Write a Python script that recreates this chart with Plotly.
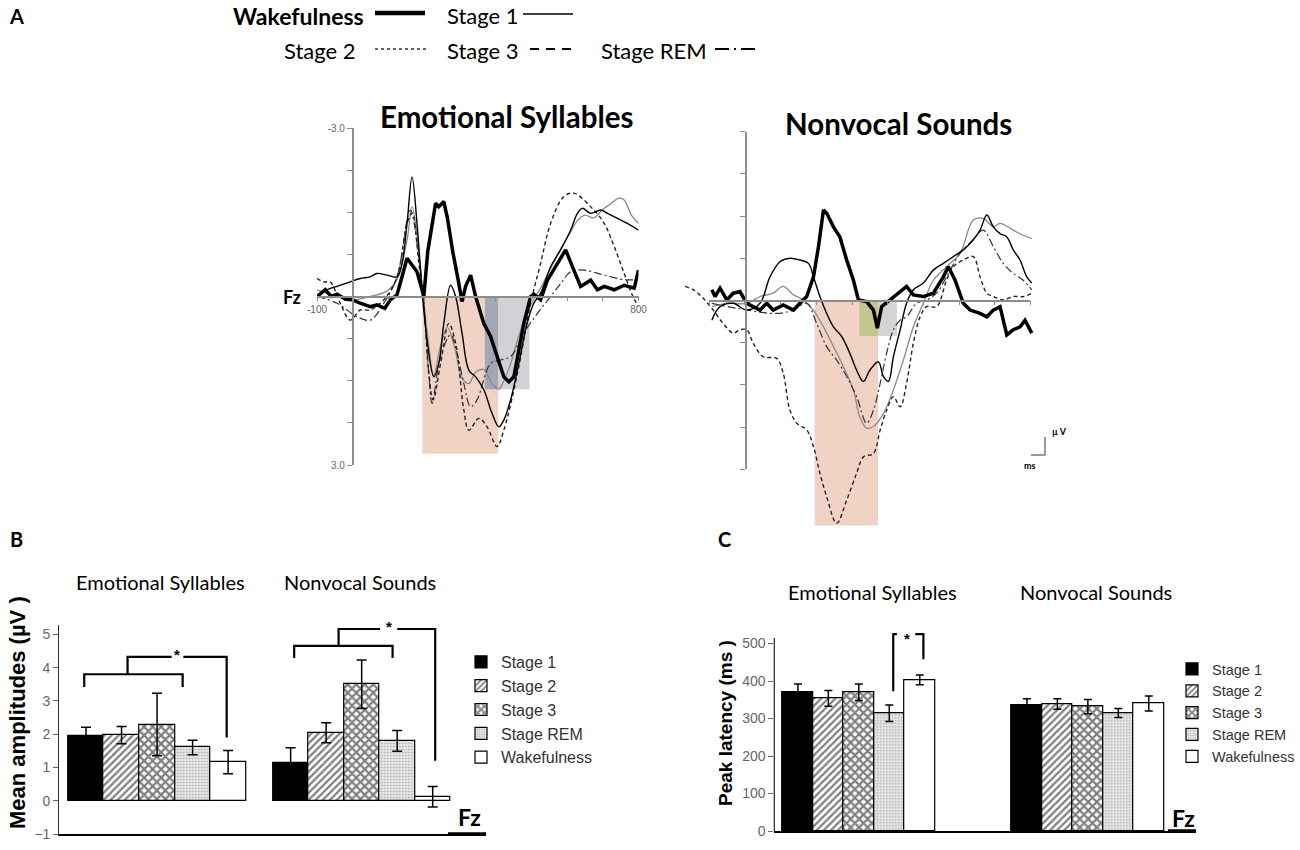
import plotly.graph_objects as go

# ---------------- data ----------------
stages = ["Stage 1", "Stage 2", "Stage 3", "Stage REM", "Wakefulness"]
conditions = ["Emotional Syllables", "Nonvocal Sounds"]

# Panel B: mean amplitudes (µV)
amp_emotional = [1.94, 1.97, 2.29, 1.60, 1.16]
amp_emotional_err = [0.27, 0.26, 0.94, 0.22, 0.35]
amp_nonvocal = [1.14, 2.04, 3.50, 1.80, 0.12]
amp_nonvocal_err = [0.45, 0.30, 0.73, 0.31, 0.31]

# Panel C: peak latency (ms)
lat_emotional = [370, 354, 370, 314, 403]
lat_emotional_err = [22, 21, 22, 22, 13]
lat_nonvocal = [336, 339, 332, 315, 340]
lat_nonvocal_err = [17, 14, 19, 12, 20]

# Panel A: ERP waveforms at Fz (ms, µV; negative plotted up)
es_wake_t = [-100, -77, -60, -44, -20, 0, 21, 49, 68, 90, 105, 124, 138, 152, 166, 180, 194, 199, 210, 232, 241, 255, 265, 280, 295, 302, 306, 316, 330, 344, 367, 386, 405, 423, 437, 451, 479, 498, 507, 526, 545, 573, 596, 619, 638, 666, 685, 704, 732, 760, 788, 800]
es_wake_v = [0.0, -0.12, 0.0, -0.04, 0.05, 0.06, 0.12, 0.18, 0.15, 0.21, 0.06, -0.03, -0.35, -0.68, -0.56, -0.44, -0.12, 0.0, -0.8, -1.66, -1.60, -1.69, -1.40, -0.80, -0.30, 0.0, 0.09, -0.18, -0.38, 0.0, 0.48, 0.71, 1.07, 1.43, 1.52, 1.43, 0.48, 0.0, -0.04, 0.06, -0.29, -0.59, -0.83, -0.47, -0.18, -0.29, -0.12, -0.18, -0.12, -0.20, -0.15, -0.47]
es_s1_t = [-100, -72, -44, -7, 21, 49, 68, 96, 124, 138, 152, 166, 180, 194, 208, 227, 241, 255, 274, 288, 306, 325, 344, 367, 390, 409, 423, 442, 465, 488, 507, 526, 554, 582, 610, 629, 643, 666, 694, 713, 741, 769, 800]
es_s1_v = [0.03, -0.12, -0.18, -0.26, -0.32, -0.35, -0.41, -0.38, -0.35, -0.59, -1.30, -2.13, -1.30, -0.12, 0.77, 1.43, 1.19, 0.48, -0.20, 0.0, 0.65, 1.31, 1.43, 1.66, 2.08, 2.32, 2.20, 1.84, 1.19, 0.48, 0.12, -0.06, -0.53, -0.83, -1.18, -1.48, -1.57, -1.48, -1.54, -1.48, -1.39, -1.30, -1.18]
es_s2_t = [-100, -44, 0, 49, 96, 124, 152, 166, 180, 194, 208, 227, 245, 265, 285, 306, 325, 344, 367, 390, 409, 423, 442, 465, 488, 507, 526, 554, 582, 610, 629, 650, 675, 700, 722, 745, 760, 780, 800]
es_s2_v = [-0.12, 0.0, 0.06, 0.0, -0.10, -0.30, -1.00, -1.60, -1.10, -0.20, 0.60, 1.40, 0.90, 0.55, 0.90, 1.45, 1.55, 1.35, 1.30, 1.55, 1.65, 1.50, 1.20, 0.70, 0.30, 0.05, -0.15, -0.50, -0.85, -1.15, -1.35, -1.45, -1.40, -1.55, -1.65, -1.75, -1.72, -1.45, -1.30]
es_s3_t = [-100, -81, -63, -35, -7, 21, 49, 87, 124, 152, 166, 185, 199, 213, 225, 246, 269, 288, 311, 325, 353, 376, 404, 423, 461, 498, 526, 554, 591, 619, 666, 704, 732, 760, 783, 800]
es_s3_v = [-0.32, -0.26, -0.26, 0.12, 0.42, 0.24, 0.24, 0.06, -0.35, -1.30, -1.48, -0.59, 0.12, 1.37, 1.84, 1.19, 0.48, 0.83, 2.02, 2.38, 2.17, 2.32, 2.67, 2.38, 1.37, 0.12, -0.59, -1.30, -1.78, -1.84, -1.60, -1.30, -0.89, -0.41, -0.02, 0.18]
es_rem_t = [-100, -44, 12, 49, 87, 124, 161, 185, 199, 213, 222, 246, 274, 292, 311, 330, 348, 386, 414, 442, 479, 517, 554, 582, 610, 647, 704, 760, 800]
es_rem_v = [0.0, 0.12, 0.36, 0.42, 0.12, -0.35, -1.54, -0.71, 0.12, 1.37, 1.90, 1.07, 0.68, 1.01, 1.55, 1.96, 1.84, 1.19, 1.13, 1.07, 0.65, 0.30, 0.0, -0.23, -0.44, -0.47, -0.38, -0.30, -0.30]

nv_wake_t = [-93, -84, -70, -51, -33, -14, 5, 23, 42, 61, 79, 107, 136, 154, 173, 192, 206, 220, 229, 248, 266, 285, 304, 318, 341, 360, 371, 383, 407, 435, 453, 472, 500, 528, 556, 570, 589, 612, 631, 659, 678, 696, 715, 734, 752, 771, 785, 804]
nv_wake_v = [-0.19, -0.07, -0.22, -0.01, -0.13, -0.16, 0.05, 0.11, 0.17, 0.05, 0.17, 0.08, 0.17, 0.05, -0.07, -0.42, -0.96, -1.61, -1.55, -1.31, -1.13, -0.72, -0.36, -0.01, 0.02, 0.17, 0.49, 0.11, -0.01, -0.16, -0.25, -0.10, -0.07, -0.13, -0.42, -0.60, -0.36, 0.05, 0.17, 0.23, 0.29, 0.17, 0.11, 0.61, 0.52, 0.47, 0.35, 0.58]
nv_s1_t = [-93, -70, -33, 5, 42, 70, 98, 126, 154, 178, 192, 210, 229, 248, 271, 294, 313, 332, 350, 374, 388, 402, 416, 435, 453, 472, 500, 528, 556, 584, 612, 640, 659, 678, 696, 715, 734, 752, 771, 790, 804]
nv_s1_v = [0.35, 0.11, 0.05, 0.17, 0.05, -0.42, -0.69, -0.75, -0.72, -0.66, -0.42, -0.07, 0.23, 0.47, 0.64, 0.94, 1.24, 1.44, 1.24, 1.09, 1.35, 1.44, 1.00, 0.52, 0.05, -0.19, -0.31, -0.54, -0.66, -0.78, -0.90, -1.08, -1.25, -1.52, -1.31, -1.19, -1.13, -0.90, -0.72, -0.42, -0.31]
nv_s2_t = [-93, -51, 5, 42, 79, 107, 136, 164, 192, 220, 248, 276, 304, 322, 341, 360, 388, 416, 444, 472, 500, 528, 565, 603, 640, 668, 696, 715, 752, 780, 804]
nv_s2_v = [0.11, 0.05, 0.05, -0.07, -0.13, -0.25, -0.10, -0.01, 0.17, 0.47, 0.82, 1.18, 1.59, 2.07, 2.27, 2.24, 2.01, 1.59, 1.06, 0.47, 0.05, -0.36, -0.60, -0.84, -1.43, -1.46, -1.31, -1.37, -1.25, -1.16, -1.10]
nv_s3_t = [-168, -145, -117, -89, -61, -33, -14, 5, 23, 51, 89, 107, 126, 145, 173, 192, 210, 229, 257, 285, 313, 332, 360, 379, 397, 416, 435, 453, 472, 491, 509, 537, 565, 584, 612, 640, 659, 678, 696, 724, 752, 780, 804]
nv_s3_v = [-0.25, -0.19, -0.04, 0.17, 0.41, 0.58, 0.52, 0.52, 0.76, 1.00, 1.03, 1.29, 1.95, 2.18, 2.30, 2.60, 3.07, 3.49, 3.96, 3.55, 3.07, 2.78, 2.72, 2.30, 1.95, 1.71, 1.89, 1.47, 0.76, 0.29, 0.11, 0.11, -0.36, -0.60, -0.72, -0.78, -0.42, -0.13, -0.07, -0.01, -0.07, -0.07, -0.13]
nv_rem_t = [-93, 5, 89, 136, 173, 201, 229, 257, 285, 313, 341, 360, 379, 397, 416, 435, 453, 481, 509, 537, 565, 603, 640, 668, 696, 724, 752, 780, 804]
nv_rem_v = [0.05, 0.17, 0.23, 0.17, 0.05, 0.41, 0.82, 1.06, 1.35, 1.71, 2.18, 1.95, 1.47, 0.94, 0.52, 0.35, 0.29, 0.05, -0.01, -0.13, -0.42, -0.84, -1.08, -1.25, -0.96, -0.66, -0.48, -0.36, -0.19]

# Analysis windows shaded in panel A: (start ms, end ms, depth µV, colour)
es_windows = [(195, 407, 2.8, "#f0d3c4"), (370, 495, 1.65, "#d2d2d6"), (370, 407, 1.65, "#a4a5b5")]
nv_windows = [(195, 373, 4.0, "#f0d3c4"), (320, 373, 0.63, "#c1c78d"), (373, 426, 0.63, "#d4d4d7")]

# Significance brackets (bar-slot units, value units)
b_es_bracket = dict(lo_x=(-0.05, 2.72), lo_y=3.80, lo_leg=3.42, mid=1.17, hi_y=4.32, hi_end=3.96, hi_leg=1.90, gap=(2.41, 2.74), star=2.57)
b_nv_bracket = dict(lo_x=(5.86, 8.63), lo_y=4.65, lo_leg=4.29, mid=7.11, hi_y=5.16, hi_end=9.83, hi_leg=1.20, gap=(8.28, 8.76), star=8.52)
c_es_bracket = dict(x=(3.13, 4.12), top=525, left_leg=373, right_leg=458, gap=(3.25, 3.85), star=3.59)

B_GROUP2 = 5.76
C_GROUP2 = 7.52

# ---------------- helpers ----------------
W, H = 1300, 850
def px(x):
    return x / W
def py(y):
    return 1 - y / H

TITLE_FONT = "Lato, Open Sans, sans-serif"
ARIAL = "Liberation Sans, Arial, sans-serif"

fig = go.Figure()

# ---------------- Panel A ----------------
line_styles = {
    "Wakefulness": dict(color="black", width=3.5),
    "Stage 1": dict(color="black", width=1.4),
    "Stage 2": dict(color="#8a8a8a", width=1.3),
    "Stage 3": dict(color="#222222", width=1.4, dash="4px,3px"),
    "Stage REM": dict(color="#333333", width=1.2, dash="8px,3px,2px,3px"),
}
es_series = [("Stage 2", es_s2_t, es_s2_v), ("Stage REM", es_rem_t, es_rem_v), ("Stage 3", es_s3_t, es_s3_v),
             ("Stage 1", es_s1_t, es_s1_v), ("Wakefulness", es_wake_t, es_wake_v)]
nv_series = [("Stage 2", nv_s2_t, nv_s2_v), ("Stage REM", nv_rem_t, nv_rem_v), ("Stage 3", nv_s3_t, nv_s3_v),
             ("Stage 1", nv_s1_t, nv_s1_v), ("Wakefulness", nv_wake_t, nv_wake_v)]

for name, t, v in es_series:
    fig.add_trace(go.Scatter(x=t, y=v, mode="lines", line=line_styles[name],
                             line_shape="linear" if name == "Wakefulness" else "spline",
                             showlegend=False, xaxis="x", yaxis="y", hoverinfo="skip"))
for name, t, v in nv_series:
    fig.add_trace(go.Scatter(x=t, y=v, mode="lines", line=line_styles[name],
                             line_shape="linear" if name == "Wakefulness" else "spline",
                             showlegend=False, xaxis="x2", yaxis="y2", hoverinfo="skip"))
# display axes for the right ERP panel
fig.add_trace(go.Scatter(x=[None], y=[None], xaxis="x5", yaxis="y5", showlegend=False))

shapes = []
for x0, x1, d, c in es_windows:
    shapes.append(dict(type="rect", xref="x", yref="y", x0=x0, x1=x1, y0=0, y1=d,
                       fillcolor=c, line=dict(width=0), layer="below"))
for x0, x1, d, c in nv_windows:
    shapes.append(dict(type="rect", xref="x2", yref="y2", x0=x0, x1=x1, y0=0, y1=d,
                       fillcolor=c, line=dict(width=0), layer="below"))

# ---------------- Panels B and C (bars) ----------------
bar_styles = {
    "Stage 1": dict(color="black"),
    "Stage 2": dict(color="white", pattern=dict(shape="/", fgcolor="black", bgcolor="white", size=5, solidity=0.45)),
    "Stage 3": dict(color="white", pattern=dict(shape="x", fgcolor="black", bgcolor="white", size=6, solidity=0.6)),
    "Stage REM": dict(color="#e6e6e6", pattern=dict(shape=".", fgcolor="#707070", bgcolor="#ebebeb", size=3, solidity=0.3)),
    "Wakefulness": dict(color="white"),
}

for i, s in enumerate(stages):
    mk = dict(bar_styles[s])
    mk["line"] = dict(color="black", width=1.2)
    fig.add_trace(go.Bar(x=[i, B_GROUP2 + i], y=[amp_emotional[i], amp_nonvocal[i]], width=1,
                         error_y=dict(type="data", array=[amp_emotional_err[i], amp_nonvocal_err[i]],
                                      color="black", thickness=1.5, width=5),
                         marker=mk, name=s, legend="legend", legendgroup="b" + s,
                         xaxis="x3", yaxis="y3", hoverinfo="skip"))
for i, s in enumerate(stages):
    mk = dict(bar_styles[s])
    mk["line"] = dict(color="black", width=1.2)
    fig.add_trace(go.Bar(x=[i, C_GROUP2 + i], y=[lat_emotional[i], lat_nonvocal[i]], width=1,
                         error_y=dict(type="data", array=[lat_emotional_err[i], lat_nonvocal_err[i]],
                                      color="black", thickness=1.5, width=4),
                         marker=mk, name=s, legend="legend2", legendgroup="c" + s,
                         xaxis="x4", yaxis="y4", hoverinfo="skip"))

# significance brackets (panel B)
def b_bracket_path(b):
    xs = [b["lo_x"][0], b["lo_x"][0], b["lo_x"][1], b["lo_x"][1], None,
          b["mid"], b["mid"], b["gap"][0], None, b["gap"][1], b["hi_end"], b["hi_end"]]
    ys = [b["lo_leg"], b["lo_y"], b["lo_y"], b["lo_leg"], None,
          b["lo_y"], b["hi_y"], b["hi_y"], None, b["hi_y"], b["hi_y"], b["hi_leg"]]
    return xs, ys

for b in (b_es_bracket, b_nv_bracket):
    xs, ys = b_bracket_path(b)
    fig.add_trace(go.Scatter(x=xs, y=ys, mode="lines", line=dict(color="black", width=2.2),
                             showlegend=False, xaxis="x3", yaxis="y3", hoverinfo="skip"))
cb = c_es_bracket
fig.add_trace(go.Scatter(x=[cb["x"][0], cb["x"][0], cb["gap"][0], None, cb["gap"][1], cb["x"][1], cb["x"][1]],
                         y=[cb["left_leg"], cb["top"], cb["top"], None, cb["top"], cb["top"], cb["right_leg"]],
                         mode="lines", line=dict(color="black", width=2.2),
                         showlegend=False, xaxis="x4", yaxis="y4", hoverinfo="skip"))

# C y-axis line (only up to ~515)
shapes.append(dict(type="line", xref="x4 domain", yref="y4", x0=0, x1=0, y0=0, y1=515,
                   line=dict(color="#333", width=1.3)))
# thick "Fz" underline segments
shapes.append(dict(type="line", xref="paper", yref="paper", x0=px(448), x1=px(486), y0=py(834), y1=py(834),
                   line=dict(color="black", width=3.5)))
shapes.append(dict(type="line", xref="paper", yref="paper", x0=px(1168), x1=px(1196), y0=py(831), y1=py(831),
                   line=dict(color="black", width=3.5)))

# top legend samples for panel A
leg_lines = [
    ((375, 13), (425, 13), dict(color="black", width=4.5)),
    ((523, 14), (573, 14), dict(color="black", width=1.5)),
    ((375, 49), (427, 49), dict(color="#333", width=1.6, dash="dot")),
    ((530, 49), (576, 49), dict(color="black", width=2.2, dash="9px,7px")),
    ((715, 49), (758, 49), dict(color="black", width=2.2, dash="14px,5px,2px,5px")),
]
for (x0, y0), (x1, y1), ln in leg_lines:
    shapes.append(dict(type="line", xref="paper", yref="paper", x0=px(x0), x1=px(x1), y0=py(y0), y1=py(y1), line=ln))
# µV / ms scale mark
shapes.append(dict(type="line", xref="paper", yref="paper", x0=px(1045), x1=px(1045), y0=py(437), y1=py(455),
                   line=dict(color="#555", width=1.2)))
shapes.append(dict(type="line", xref="paper", yref="paper", x0=px(1031), x1=px(1045), y0=py(455), y1=py(455),
                   line=dict(color="#555", width=1.2)))

# ---------------- annotations ----------------
ann = []
def text(x, y, s, size, bold=False, anchor="center", family=TITLE_FONT, color="black", angle=0, vanchor="middle"):
    ann.append(dict(x=px(x), y=py(y), xref="paper", yref="paper", text=("<b>%s</b>" % s) if bold else s,
                    showarrow=False, xanchor=anchor, yanchor=vanchor, textangle=angle,
                    font=dict(size=size, family=family, color=color)))

text(7, 16, "A", 20, True, "left")
text(366, 16, "Wakefulness", 23, True, "right")
text(445, 16, "Stage 1", 22, False, "left")
text(358, 50, "Stage 2", 22, False, "right")
text(445, 50, "Stage 3", 22, False, "left")
text(599, 50, "Stage REM", 22, False, "left")

text(506, 116, conditions[0], 29.5, True)
text(898, 123, conditions[1], 29.5, True)
text(303, 297, "Fz", 18, True, "right")
text(1050, 432, "µ V", 9, True, "left")
text(1030, 465, "ms", 9, True)

text(8, 539, "B", 20, True, "left")
text(160, 582, conditions[0], 20)
text(360, 582, conditions[1], 20)
text(17, 713, "Mean amplitudes (µV )", 22, True, family=ARIAL, angle=-90)
text(469, 817, "Fz", 23, True)

text(716, 539, "C", 20, True, "left")
text(872, 592, conditions[0], 20)
text(1096, 592, conditions[1], 20)
text(725, 723, "Peak latency (ms )", 19, True, family=ARIAL, angle=-90)
text(1183, 818, "Fz", 23, True)

# stars
for b in (b_es_bracket, b_nv_bracket):
    ann.append(dict(x=b["star"], y=b["hi_y"], xref="x3", yref="y3", text="<b>*</b>", showarrow=False,
                    yanchor="middle", yshift=2, font=dict(size=15, family=ARIAL, color="black")))
ann.append(dict(x=cb["star"], y=cb["top"], xref="x4", yref="y4", text="<b>*</b>", showarrow=False,
                yanchor="middle", yshift=-4, font=dict(size=15, family=ARIAL, color="black")))

# ---------------- layout ----------------
ERP_PX = 0.3567   # px per ms
gray = "#8c8c8c"
erp_ticks = [-3, -2.25, -1.5, -0.75, 0, 0.75, 1.5, 2.25, 3]
ms_ticks = list(range(-100, 801, 100))

fig.update_layout(
    width=W, height=H, margin=dict(l=0, r=0, t=0, b=0, autoexpand=False),
    paper_bgcolor="white", plot_bgcolor="rgba(0,0,0,0)",
    showlegend=True, bargap=0,
    shapes=shapes, annotations=ann,
    xaxis=dict(domain=[px(317), px(638.5)], range=[-100, 800], anchor="free", position=py(296.5),
               showline=True, linecolor=gray, linewidth=1.5, ticks="outside", ticklen=4, tickcolor=gray,
               tickvals=ms_ticks, ticktext=["-100"] + [""] * 8 + ["800"],
               tickfont=dict(size=10, color="#666", family=ARIAL), showgrid=False, zeroline=False),
    yaxis=dict(domain=[py(465), py(128)], range=[3, -3], anchor="free", position=px(352.7),
               showline=True, linecolor=gray, linewidth=1.5, ticks="outside", ticklen=5, tickcolor=gray,
               tickvals=erp_ticks, ticktext=["-3.0"] + [""] * 7 + ["3.0"],
               tickfont=dict(size=10, color="#666", family=ARIAL), showgrid=False, zeroline=False),
    xaxis2=dict(domain=[px(745 - 180 * ERP_PX), px(745 + 810 * ERP_PX)], range=[-180, 810],
                visible=False, anchor="y2"),
    yaxis2=dict(domain=[py(300.5 + 4.1 * 56.25), py(300.5 - 3.1 * 56.25)], range=[4.1, -3.1],
                visible=False, anchor="x2"),
    xaxis5=dict(domain=[px(709.3), px(1030.4)], range=[-100, 800], anchor="free", position=py(300.5),
                showline=True, linecolor=gray, linewidth=1.5, ticks="outside", ticklen=4, tickcolor=gray,
                tickvals=ms_ticks, showticklabels=False, showgrid=False, zeroline=False),
    yaxis5=dict(domain=[py(469.25), py(131.75)], range=[3, -3], anchor="free", position=px(745.5),
                showline=True, linecolor=gray, linewidth=1.5, ticks="outside", ticklen=5, tickcolor=gray,
                tickvals=erp_ticks, showticklabels=False, showgrid=False, zeroline=False),
    xaxis3=dict(domain=[px(59.3), px(486)], range=[-0.752, 11.26], anchor="y3",
                showline=True, linecolor="black", linewidth=2, ticks="", showticklabels=False,
                showgrid=False, zeroline=False),
    yaxis3=dict(domain=[py(834), py(625)], range=[-1, 5.28], anchor="x3",
                showline=True, linecolor="#333", linewidth=1.3, ticks="outside", ticklen=5, tickcolor="#666",
                tickvals=[-1, 0, 1, 2, 3, 4, 5], tickfont=dict(size=14, color="#666", family=ARIAL),
                showgrid=False, zeroline=False),
    xaxis4=dict(domain=[px(774.3), px(1196)], range=[-0.775, 13.07], anchor="y4",
                showline=True, linecolor="black", linewidth=2, ticks="", showticklabels=False,
                showgrid=False, zeroline=False),
    yaxis4=dict(domain=[py(831), py(632.25)], range=[0, 530], anchor="x4",
                showline=False, ticks="outside", ticklen=5, tickcolor="#666",
                tickvals=[0, 100, 200, 300, 400, 500], tickfont=dict(size=14, color="#666", family=ARIAL),
                showgrid=False, zeroline=False),
    legend=dict(x=px(461), y=py(645), xanchor="left", yanchor="top", bgcolor="rgba(0,0,0,0)",
                font=dict(size=16, color="#333", family=ARIAL), tracegroupgap=1, traceorder="normal"),
    legend2=dict(x=px(1172), y=py(653), xanchor="left", yanchor="top", bgcolor="rgba(0,0,0,0)",
                 font=dict(size=14.5, color="#333", family=ARIAL), tracegroupgap=1.5, traceorder="normal"),
)

fig.write_html("out.html", config={"displayModeBar": False},
               post_script="document.body.style.margin='0px'; document.body.style.overflow='hidden';")
